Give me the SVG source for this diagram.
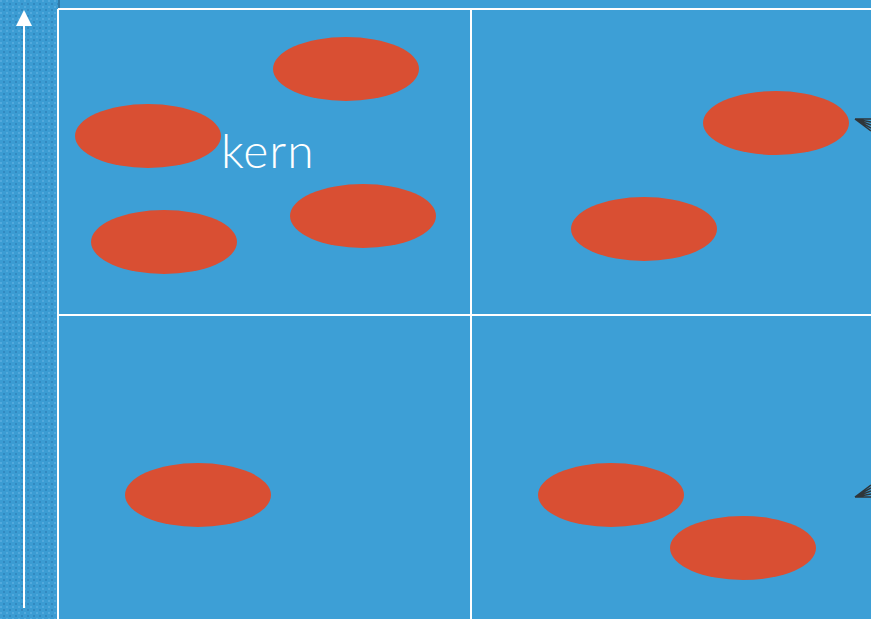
<svg xmlns="http://www.w3.org/2000/svg" width="871" height="619" viewBox="0 0 871 619">
<style>
.bg{fill:#3d9fd6}
.node ellipse{fill:#d94f33}
.grid{stroke:#ffffff;stroke-width:2;fill:none}
.fan{stroke:#2f3539;stroke-width:1.5;fill:none}
.lbl{font-family:Lato,"Open Sans",sans-serif;font-weight:300;font-size:48px;letter-spacing:1px;fill:#ffffff}
</style>
<defs>
<pattern id="tex" width="6" height="6" patternUnits="userSpaceOnUse">
<rect width="6" height="6" fill="#3b9cd3"/>
<rect x="0" y="0" width="2" height="2" fill="#52a9dc"/>
<rect x="3" y="3" width="2" height="2" fill="#3289c0"/>
</pattern>
</defs>
<rect class="bg" width="871" height="619"/>
<rect x="0" y="0" width="58" height="619" fill="url(#tex)"/>
<line x1="59" y1="0" x2="59" y2="9" stroke="#2a6f9c" stroke-width="1.5"/>
<g id="grid" class="grid">
<line x1="58" y1="9" x2="871" y2="9"/>
<line x1="58" y1="9" x2="58" y2="619"/>
<line x1="471" y1="9" x2="471" y2="619"/>
<line x1="58" y1="315" x2="871" y2="315"/>
</g>
<g id="connectors">
<line x1="24" y1="608" x2="24" y2="24" stroke="#ffffff" stroke-width="2"/>
<polygon points="24,10 16,26 32,26" fill="#ffffff"/>
<path class="fan" d="M855,119 L871,119 M855,119 L871,122 M855,119 L871,125 M855,119 L871,128 M855,119 L871,131"/>
<path class="fan" d="M855,497 L871,497 M855,497 L871,494 M855,497 L871,491 M855,497 L871,488 M855,497 L871,485"/>
</g>
<g id="n1" class="node"><ellipse cx="346" cy="69" rx="73" ry="32"/></g>
<g id="n2" class="node"><ellipse cx="148" cy="136" rx="73" ry="32"/></g>
<g id="n3" class="node"><ellipse cx="363" cy="216" rx="73" ry="32"/></g>
<g id="n4" class="node"><ellipse cx="164" cy="242" rx="73" ry="32"/></g>
<g id="n5" class="node"><ellipse cx="776" cy="123" rx="73" ry="32"/></g>
<g id="n6" class="node"><ellipse cx="644" cy="229" rx="73" ry="32"/></g>
<g id="n7" class="node"><ellipse cx="198" cy="495" rx="73" ry="32"/></g>
<g id="n8" class="node"><ellipse cx="611" cy="495" rx="73" ry="32"/></g>
<g id="n9" class="node"><ellipse cx="743" cy="548" rx="73" ry="32"/></g>
<text class="lbl" x="221" y="168">kern</text>
</svg>
